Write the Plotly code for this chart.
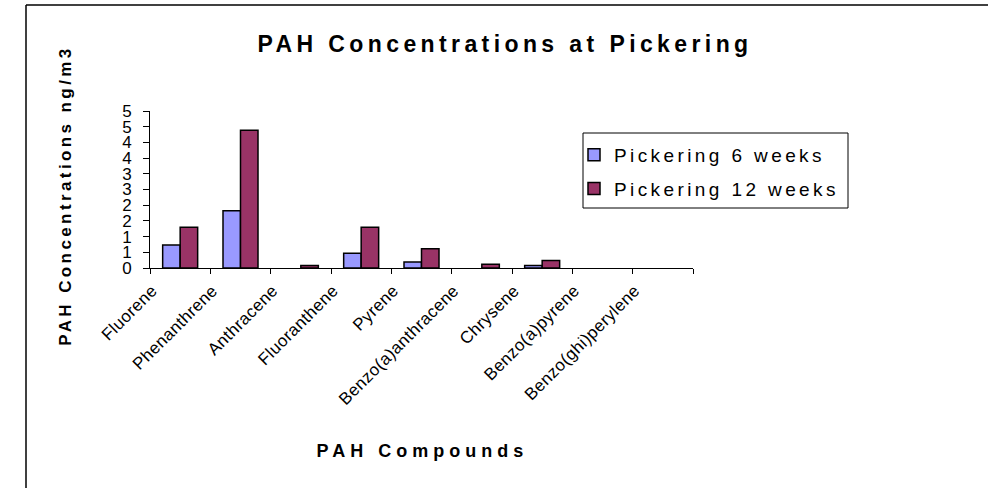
import plotly.graph_objects as go

# PAH compounds measured at Pickering (ng/m3)
compounds = [
    "Fluorene", "Phenanthrene", "Anthracene", "Fluoranthene", "Pyrene",
    "Benzo(a)anthracene", "Chrysene", "Benzo(a)pyrene", "Benzo(ghi)perylene",
]
weeks_6 = [0.73, 1.82, None, 0.47, 0.19, None, 0.08, None, None]
weeks_12 = [1.30, 4.39, 0.08, 1.30, 0.61, 0.12, 0.24, None, None]

# y-axis ticks every 0.5, labelled with whole numbers
y_tickvals = [0, 0.5, 1, 1.5, 2, 2.5, 3, 3.5, 4, 4.5, 5]
y_ticktext = ["0", "1", "1", "2", "2", "3", "3", "4", "4", "5", "5"]

FONT = "Arial, Liberation Sans, sans-serif"
W, H = 988, 488
PL, PR, PT, PB = 150, 693, 111, 268  # plot area in pixels


def px_x(x):
    return (x - PL) / (PR - PL)


def px_y(y):
    return (PB - y) / (PB - PT)


fig = go.Figure()
fig.add_trace(go.Bar(
    x=compounds, y=weeks_6, name="Pickering 6 weeks", legendgroup="a",
    marker=dict(color="#9999FF", line=dict(color="black", width=1.5)),
))
fig.add_trace(go.Bar(
    x=compounds, y=weeks_12, name="Pickering 12 weeks", legendgroup="b",
    marker=dict(color="#993366", line=dict(color="black", width=1.5)),
))

fig.update_layout(
    width=W, height=H,
    margin=dict(l=PL, r=W - PR, t=PT, b=H - PB, pad=0),
    paper_bgcolor="white", plot_bgcolor="white",
    barmode="group", bargap=0.42, bargroupgap=0,
    font=dict(family=FONT, color="black"),
    showlegend=True,
    title=dict(
        text="<b>PAH Concentrations at Pickering</b>",
        font=dict(size=23, family=FONT, color="black"),
        x=505 / W, xref="container", xanchor="center",
        y=1 - 44 / H, yref="container", yanchor="middle",
    ),
    legend=dict(
        x=px_x(574), y=px_y(136), xanchor="left", yanchor="top",
        bgcolor="rgba(0,0,0,0)", borderwidth=0,
        font=dict(size=19, family=FONT, color="black"),
        traceorder="grouped", tracegroupgap=6,
    ),
    xaxis=dict(
        type="category", showline=True, linecolor="black", linewidth=1,
        ticks="outside", tickson="boundaries", ticklen=5, tickcolor="black",
        tickangle=-45, tickfont=dict(size=17, family=FONT, color="black"),
        ticklabelshift=-28, ticklabelstandoff=5,
        showgrid=False, zeroline=False, fixedrange=True,
    ),
    yaxis=dict(
        range=[0, 5], showline=True, linecolor="black", linewidth=1,
        ticks="outside", ticklen=6, tickcolor="black",
        tickvals=y_tickvals, ticktext=y_ticktext, ticklabelstandoff=8,
        tickfont=dict(size=17, family=FONT, color="black"),
        showgrid=False, zeroline=False, fixedrange=True,
    ),
    annotations=[
        dict(text="<b>PAH Compounds</b>", xref="paper", yref="paper",
             x=px_x(422), y=px_y(451), xanchor="center", yanchor="middle",
             showarrow=False, font=dict(size=18, family=FONT, color="black")),
        dict(text="<b>PAH Concentrations ng/m3</b>", xref="paper", yref="paper",
             x=px_x(65), y=px_y(196), xanchor="center", yanchor="middle",
             textangle=-90, showarrow=False,
             font=dict(size=17, family=FONT, color="black")),
    ],
    shapes=[
        # legend frame
        dict(type="rect", xref="paper", yref="paper",
             x0=px_x(583), x1=px_x(848), y0=px_y(208), y1=px_y(133),
             line=dict(color="black", width=1), fillcolor="rgba(0,0,0,0)"),
        # chart frame (left and top edges)
        dict(type="line", xref="paper", yref="paper",
             x0=px_x(26), x1=px_x(26), y0=px_y(5), y1=px_y(H + 2),
             line=dict(color="black", width=1.5)),
        dict(type="line", xref="paper", yref="paper",
             x0=px_x(26), x1=px_x(W + 2), y0=px_y(5), y1=px_y(5),
             line=dict(color="black", width=1.5)),
    ],
)

# widen the character spacing of the titles, legend entries and category labels
post = """
var gd = document.getElementById('{plot_id}');
function sp(nodes, v) { nodes.forEach(function (e) { e.style.letterSpacing = v; }); }
sp(gd.querySelectorAll('.gtitle'), '4.4px');
sp(gd.querySelectorAll('.legendtext'), '3.4px');
sp(gd.querySelectorAll('.xtick text'), '0.4px');
gd.querySelectorAll('.legend [clip-path]').forEach(function (e) { e.removeAttribute('clip-path'); });
var ann = gd.querySelectorAll('.annotation-text');
if (ann.length > 0) { ann[0].style.letterSpacing = '5px'; }
if (ann.length > 1) { ann[1].style.letterSpacing = '3.4px'; }
"""

fig.write_html("out.html", post_script=post, config={"displayModeBar": False})
